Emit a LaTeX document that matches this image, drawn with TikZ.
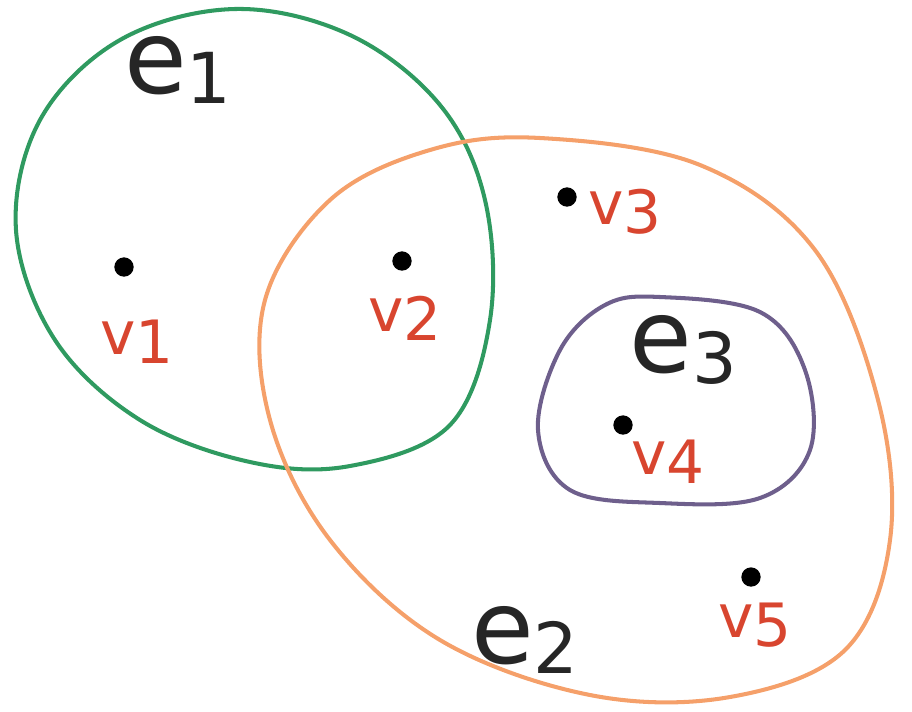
\documentclass[tikz,border=0pt]{standalone}
\usepackage{fontspec}
\setmainfont{DejaVu Sans}
\begin{document}
\begin{tikzpicture}[x=0.02cm,y=-0.02cm,
  edgeline/.style={line width=2.3pt,line cap=round,line join=round},
  vdot/.style={circle,fill=black,inner sep=0pt,minimum size=11pt},
  vlab/.style={text=vred,font=\fontsize{34}{36}\selectfont},
  elab/.style={text=black!85,font=\fontsize{58}{60}\selectfont}]
\definecolor{egreen}{HTML}{2F9A60}
\definecolor{eorange}{HTML}{F5A06A}
\definecolor{epurple}{HTML}{6E5F8C}
\definecolor{vred}{HTML}{D8452F}
\useasboundingbox (0,0) rectangle (912,711);
% e1 green
\draw[edgeline,egreen] plot[smooth cycle,tension=0.6] coordinates {
 (235,9) (350,35) (440,105) (485,200) (490,320) (450,425) (350,466)
 (250,462) (140,420) (55,340) (16,230) (40,120) (120,40)};
% e2 orange
\draw[edgeline,eorange] plot[smooth cycle,tension=0.6] coordinates {
 (540,138) (700,165) (815,250) (878,400) (890,540) (845,650) (730,697)
 (590,695) (440,640) (330,540) (270,420) (265,300) (330,200) (430,150)};
% e3 purple
\draw[edgeline,epurple] plot[smooth cycle,tension=0.6] coordinates {
 (660,297) (760,312) (805,370) (810,450) (760,498) (660,503)
 (570,490) (538,430) (560,350) (605,305)};
% vertices
\node[vdot] (v1) at (124,267) {};
\node[vdot] (v2) at (402,261) {};
\node[vdot] (v3) at (567,197) {};
\node[vdot] (v4) at (623,425) {};
\node[vdot] (v5) at (751,577) {};
% labels
\node[vlab] (l1) at (137,342) {v\raisebox{-0.15em}{1}};
\node[vlab] (l2) at (405,318) {v\raisebox{-0.15em}{2}};
\node[vlab] (l3) at (625,212) {v\raisebox{-0.15em}{3}};
\node[vlab] (l4) at (668,462) {v\raisebox{-0.15em}{4}};
\node[vlab] (l5) at (755,625) {v\raisebox{-0.15em}{5}};
\node[elab] (e1) at (178,70) {e\raisebox{-0.1em}{\fontsize{40}{40}\selectfont 1}};
\node[elab] (e2) at (525,640) {e\raisebox{-0.1em}{\fontsize{40}{40}\selectfont 2}};
\node[elab] (e3) at (683,350) {e\raisebox{-0.1em}{\fontsize{40}{40}\selectfont 3}};
\end{tikzpicture}
\end{document}
